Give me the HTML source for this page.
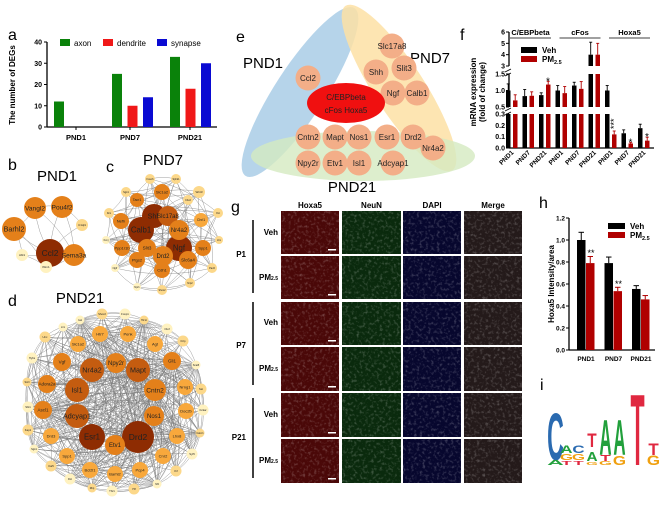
<!DOCTYPE html>
<html><head><meta charset="utf-8"><style>
html,body{margin:0;padding:0;background:#fff;}
svg{display:block;font-family:"Liberation Sans",sans-serif;}
</style></head><body>
<svg id="fig" width="669" height="506" viewBox="0 0 669 506" xmlns="http://www.w3.org/2000/svg">
<defs>
<filter id="noise" x="0" y="0" width="100%" height="100%">
<feTurbulence type="fractalNoise" baseFrequency="0.35" numOctaves="2" seed="3"/>
<feColorMatrix type="matrix" values="0 0 0 0 1  0 0 0 0 1  0 0 0 0 1  0 0 0 2.2 -1.1"/>
</filter>
</defs>
<g id="root"></g>
</svg>
<script>
// ---------- Panel a data ----------
const aCategories = ["PND1","PND7","PND21"];
const aAxon = [12, 25, 33];
const aDendrite = [0, 10, 18];
const aSynapse = [0, 14, 30];
const aTicks = [0,10,20,30,40];
// ---------- Panel f data ----------
const fGenes = ["C/EBPbeta","cFos","Hoxa5"];
const fDays = ["PND1","PND7","PND21"];
const fVeh = [1.0,0.83,0.86, 1.0,1.15,4.0, 1.0,0.13,0.175];
const fVehErr = [0.2,0.2,0.07, 0.15,0.1,1.1, 0.15,0.03,0.035];
const fPM = [0.7,0.84,1.18, 0.92,1.05,4.0, 0.12,0.04,0.065];
const fPMErr = [0.17,0.12,0.1, 0.2,0.22,1.0, 0.03,0.01,0.03];
const fStars = ["","","*","","","","***","*","*"];
const fTicksLow = [0.0,0.1,0.2,0.3];
const fTicksMid = [0.5,1.0,1.5];
const fTicksHigh = [3,4,5,6];
// ---------- Panel h data ----------
const hCategories = ["PND1","PND7","PND21"];
const hVeh = [1.0, 0.79, 0.555];
const hVehErr = [0.07, 0.055, 0.03];
const hPM = [0.79, 0.535, 0.46];
const hPMErr = [0.06, 0.035, 0.035];
const hStars = ["**","**",""];
const hTicks = [0.0,0.2,0.4,0.6,0.8,1.0,1.2];

const NS="http://www.w3.org/2000/svg";
const root=document.getElementById('root');
function el(tag,attrs,parent,text){const e=document.createElementNS(NS,tag);for(const k in attrs)e.setAttribute(k,attrs[k]);if(text!==undefined)e.textContent=text;(parent||root).appendChild(e);return e;}
function label(t,x,y,size,name){const e=el('text',{x:x,y:y,'font-size':size||15},root,t);

return e;}

label('a',8,40,16,'panel-label-a');label('b',8,170,16,'panel-label-b');label('c',106,172,16,'panel-label-c');
label('d',8,306,16,'panel-label-d');label('e',236,42,16,'panel-label-e');label('f',460,40,16,'panel-label-f');
label('g',231,212,16,'panel-label-g');label('h',539,208,16,'panel-label-h');label('i',540,390,16,'panel-label-i');

// ================= Panel a =================
(function(){
const g=el('g',{});


const x0=47,x1=217,yTop=42,yBot=127;
const y=v=>yBot-(v/40)*(yBot-yTop);
const catX=i=>[59,117,175][i];
const tickX=[76,130,190];
el('line',{x1:x0,y1:yTop,x2:x0,y2:yBot,stroke:'#000','stroke-width':1.3},g);
el('line',{x1:x0,y1:yBot,x2:x1,y2:yBot,stroke:'#000','stroke-width':1.3},g);
aTicks.forEach(t=>{el('line',{x1:x0-3,y1:y(t),x2:x0,y2:y(t),stroke:'#000'},g);
 const tx=el('text',{x:x0-5,y:y(t)+2.5,'font-size':7,'font-weight':'bold','text-anchor':'end'},g,t);
 
 });
const yt=el('text',{x:0,y:0,'font-size':8,'font-weight':'bold','text-anchor':'middle',transform:'translate(15,85) rotate(-90)'},g,'The number of DEGs');


const series=[[aAxon,'#0a820a',0],[aDendrite,'#f01818',1],[aSynapse,'#0a0ad2',2]];
aCategories.forEach((c,i)=>{
 const cx=catX(i);
 el('line',{x1:tickX[i],y1:yBot,x2:tickX[i],y2:yBot+3,stroke:'#000'},g);
 const t=el('text',{x:tickX[i],y:yBot+13,'font-size':7.5,'font-weight':'bold','text-anchor':'middle'},g,c);
 
 
 series.forEach(s=>{const v=s[0][i];const bx=cx+s[2]*15.5-5;
  const r=el('rect',{x:bx,y:y(v),width:10,height:yBot-y(v),fill:s[1]},g);
  
  });
});
[['axon','#0a820a',60],['dendrite','#f01818',103],['synapse','#0a0ad2',157]].forEach(l=>{
 const lg=el('g',{},g);
 
 
 el('rect',{x:l[2],y:39,width:10,height:7,fill:l[1]},lg);
 el('text',{x:l[2]+14,y:46,'font-size':8},lg,l[0]);});
})();

// ================= Networks =================
function network(name,nodes,edges,titleTxt,tx,ty){
 const g=el('g',{});
 
 
 const t=el('text',{x:tx,y:ty,'font-size':15,'text-anchor':'middle'},g,titleTxt);
 
 
 const eg=el('g',{stroke:'#777','stroke-width':0.45,fill:'none','stroke-opacity':0.8},g);
 edges.forEach(e=>{const a=nodes[e[0]],b=nodes[e[1]];
  const mx=(a[1]+b[1])/2+(b[2]-a[2])*0.12,my=(a[2]+b[2])/2-(b[1]-a[1])*0.12;
  el('path',{d:`M${a[1]},${a[2]} Q${mx},${my} ${b[1]},${b[2]}`},eg);});
 const cols=['#fff2c0','#fcd88a','#f8a83c','#e4801a','#c45c10','#8e2c02'];
 nodes.forEach(n=>{const ng=el('g',{},g);
  
  
  el('circle',{cx:n[1],cy:n[2],r:n[3],fill:cols[n[4]]},ng);
  const fs=n[3]>=10?Math.min(8.5,n[3]*0.6):Math.max(2.5,n[3]*0.5);
  el('text',{x:n[1],y:n[2]+fs*0.35,'font-size':fs,'text-anchor':'middle',fill:'#222'},ng,n[0]);});
}
function allEdges(n,step){const e=[];for(let i=0;i<n;i++)for(let j=i+1;j<n;j++){if((i*7+j*3)%step===0||j===i+1)e.push([i,j]);}return e;}
// b
(function(){
const nodes=[['Ccl2',50,253,14,5],['Vangl2',35,208,11,3],['Pou4f2',62,207,11,3],['Barhl2',14,229,12,3],['Sema3a',74,255,11,3],['C1ql1',82,225,6,1],['Abl1',22,255,6,0],['Ifitm1',46,267,6,0]];
const edges=[[0,1],[0,2],[0,3],[0,4],[0,5],[0,6],[0,7],[1,2],[1,3],[2,4],[3,6],[4,7],[6,7],[2,5],[1,4],[3,7]];
network('network-pnd1',nodes,edges,'PND1',57,181);
})();
// c
(function(){
const nodes=[['Shh',154,216,12,5],['Calb1',141,230,13,5],['Ngf',179,248,13,5],['Slc17a8',168,216,10,4],['Nr4a2',179,230,10,3],['Drd2',163,256,10,3],['Slit3',147,248,9,3],['Slc6a4',188,260,9,3],['Slc1a2',162,192,8,3],['Tacr1',137,200,7,3],['Nefh',121,221,8,3],['Ppp1r1b',122,248,8,3],['Ptgs2',137,260,8,3],['Cdh1',162,270,8,3],['Spp1',203,248,8,3],['Chrl1',201,220,7,2],['Wnt3',199,192,6,1],['Cbx2',188,200,5,1],['Foxo6',150,179,5,1],['Sphk1',176,179,5,1],['Sgk1',126,192,5,1],['Dcx',109,213,5,1],['Oxt',218,213,5,1],['Kcnj',106,240,4,0],['Pax6',212,268,5,1],['Nrp2',190,283,5,1],['Shox2',162,290,5,1],['Npr1',137,287,4,0],['Ngfr',115,268,4,0],['Lhx',219,240,4,1]];
network('network-pnd7',nodes,allEdges(nodes.length,4),'PND7',163,165);
})();
// d
(function(){
const nodes=[['Drd2',138,437,16,5],['Esr1',92,437,13,5],['Nr4a2',92,370,12,4],['Mapt',138,370,12,4],['Isl1',77,390,12,4],['Adcyap1',77,416,12,4],['Cntn2',155,390,11,3],['Nos1',154,416,10,3],['Etv1',115,445,10,3],['Npy2r',116,363,10,3],
['Vgf',62,362,9,3],['Slc1a2',78,344,8,2],['Htr7',100,334,8,2],['Penk',128,334,8,2],['Agt',155,344,8,2],['Gli1',172,361,9,3],['Adora2a',47,384,9,3],['Nrng1',185,387,8,2],['Ascl1',43,410,9,3],['Doc2b',186,411,8,2],['Drd3',51,436,8,2],['Lhx8',177,436,8,2],['Spp1',67,456,8,2],['Cnr2',163,456,8,2],['Bcl2l1',90,470,8,2],['Barhl2',115,474,8,2],['Pcp4',140,470,8,2]];
const outer=[['Gal',80,320],['Shox2',102,314],['Foxp1',125,314],['Htr1c',144,320],['Otof',167,329],['Crtp',183,341],['Snai5',196,365],['Sst',201,389],['Cckar',203,410],['Calcr1',200,433],['Syt5',192,454],['Kif',176,471],['Nfil',157,484],['Hlf',134,489],['Tbr1',112,491],['Rbp',92,488],['Dct',70,479],['Cai5',51,466],['Sgk1',34,449],['Kap1',28,430],['Sbi1',28,407],['Sst3',27,382],['Hybs',32,358],['Unc',45,337],['Lrrc',63,327]];
outer.forEach((o,i)=>nodes.push([o[0],o[1],o[2],i%3===0?4.5:5.5,i%2]));
network('network-pnd21',nodes,allEdges(nodes.length,3),'PND21',80,303);
})();

// ================= Panel e =================
(function(){
const g=el('g',{});


el('ellipse',{cx:300,cy:92,rx:100,ry:25,fill:'#a9cde6',opacity:0.85,transform:'rotate(-57 300 92)'},g);
el('ellipse',{cx:399,cy:88,rx:98,ry:25,fill:'#fde0a4',opacity:0.85,transform:'rotate(57 399 88)'},g);
el('ellipse',{cx:363,cy:156,rx:112,ry:25,fill:'#d4eac0',opacity:0.8},g);
[['PND1',263,68],['PND7',430,63],['PND21',352,192]].forEach(t=>{const e=el('text',{x:t[1],y:t[2],'font-size':15,'text-anchor':'middle'},g,t[0]);
 
 });
const genes=[['Slc17a8',392,46],['Shh',376,72],['Slit3',404,68],['Ngf',393,93],['Calb1',417,93],['Ccl2',308,78],['Cntn2',308,137],['Mapt',335,137],['Nos1',359,137],['Esr1',387,137],['Drd2',413,137],['Nr4a2',433,148],['Npy2r',308,163],['Etv1',335,163],['Isl1',359,163],['Adcyap1',393,163]];
genes.forEach(s=>{const n=el('g',{},g);
 
 
 el('circle',{cx:s[1],cy:s[2],r:12.5,fill:'#f3ae88'},n);
 el('text',{x:s[1],y:s[2]+3,'font-size':8,'text-anchor':'middle',fill:'#222'},n,s[0]);});
const c=el('g',{},g);


el('ellipse',{cx:346,cy:103,rx:39,ry:20,fill:'#f01010'},c);
el('text',{x:346,y:100,'font-size':8,'text-anchor':'middle',fill:'#222'},c,'C/EBPbeta');
el('text',{x:346,y:113,'font-size':8,'text-anchor':'middle',fill:'#222'},c,'cFos Hoxa5');
})();

// ================= Panel f =================
(function(){
const g=el('g',{});


const ax=509,xEnd=654;
const segs=[{lo:0,hi:0.3,y0:148,y1:114},{lo:0.5,hi:1.5,y0:107,y1:74},{lo:3,hi:6,y0:66,y1:32}];
const map=(s,v)=>s.y0-(v-s.lo)/(s.hi-s.lo)*(s.y0-s.y1);
const yOf=v=>{for(let i=segs.length-1;i>=0;i--){if(v>=segs[i].lo)return map(segs[i],Math.min(v,segs[i].hi));}return 148;};
segs.forEach(s=>el('line',{x1:ax,y1:s.y0,x2:ax,y2:s.y1,stroke:'#000','stroke-width':1.3},g));
el('line',{x1:ax,y1:148,x2:xEnd,y2:148,stroke:'#000','stroke-width':1.3},g);
[[segs[0],fTicksLow,1],[segs[1],fTicksMid,1],[segs[2],fTicksHigh,0]].forEach(a=>a[1].forEach(t=>{
 el('line',{x1:ax-3,y1:map(a[0],t),x2:ax,y2:map(a[0],t),stroke:'#000'},g);
 const e=el('text',{x:ax-4,y:map(a[0],t)+2.5,'font-size':7,'font-weight':'bold','text-anchor':'end'},g,t.toFixed(a[2]));
 
 }));
el('path',{d:'M505,72 l6,-3 M505,76 l6,-3 M505,111 l6,-3 M505,115 l6,-3',stroke:'#000','stroke-width':0.8},g);
const yt=el('text',{'font-size':8,'font-weight':'bold','text-anchor':'middle',transform:'translate(476,92) rotate(-90)'},g);


el('tspan',{x:0,dy:0},yt,'mRNA expression');el('tspan',{x:0,dy:9},yt,'(fold of change)');
const gx=i=>508+16.5*i;
function bar(x,v,err,col,name){
 const bg=el('g',{},g);
 
 
 segs.forEach(s=>{if(v>s.lo){const top=map(s,Math.min(v,s.hi));el('rect',{x:x-2,y:top,width:4.5,height:s.y0-top,fill:col},bg);}});
 const yt2=yOf(v+err),yb=yOf(v);
 el('line',{x1:x+0.2,y1:yb,x2:x+0.2,y2:yt2,stroke:col,'stroke-width':0.9},bg);
 el('line',{x1:x-1.3,y1:yt2,x2:x+1.7,y2:yt2,stroke:col,'stroke-width':0.9},bg);
}
fVeh.forEach((v,i)=>{
 const x=gx(i);
 bar(x,v,fVehErr[i],'#000','bar-veh-'+i);
 bar(x+7,fPM[i],fPMErr[i],'#b00000','bar-pm25-'+i);
 if(fStars[i]){const top=yOf(fPM[i]+fPMErr[i]);
  if(fStars[i].length>2){const s=el('text',{'font-size':9,transform:`translate(${x+10},${top-2}) rotate(-90)`},g,fStars[i]);}
  else{const s=el('text',{x:x+7,y:top+3,'font-size':10,'text-anchor':'middle'},g,fStars[i]);}}
 const d=fDays[i%3];
 const t=el('text',{'font-size':6.5,'font-weight':'bold','text-anchor':'end',transform:`translate(${x+6},${153}) rotate(-45)`},g,d);
 
 
});
fGenes.forEach((gn,k)=>{const x1=gx(k*3)+2,x2=gx(k*3+2)+10;
 const hg=el('g',{},g);
 
 
 el('line',{x1:x1,y1:38,x2:x2,y2:38,stroke:'#000','stroke-width':0.8},hg);
 el('text',{x:(x1+x2)/2,y:35,'font-size':7.5,'font-weight':'bold','text-anchor':'middle'},hg,gn);});
const lg1=el('g',{},g);
el('rect',{x:521,y:47,width:16,height:6,fill:'#000'},lg1);el('text',{x:542,y:53,'font-size':8,'font-weight':'bold'},lg1,'Veh');
const lg2=el('g',{},g);
el('rect',{x:521,y:56,width:16,height:6,fill:'#b00000'},lg2);
const pt=el('text',{x:542,y:62,'font-size':8,'font-weight':'bold'},lg2,'PM');el('tspan',{'font-size':5.5,dy:2},pt,'2.5');
})();

// ================= Panel g =================
(function(){
const g=el('g',{});


const cols=[[281,339,'Hoxa5','#4a0808','#ff3030'],[342,401,'NeuN','#0a2a0d','#40d040'],[403,461,'DAPI','#07072e','#4040ff'],[464,522,'Merge','#241a1a','#d08050']];
const rows=[[211,254],[256,299],[302,345],[347,391],[393,437],[439,483]];
cols.forEach(c=>{const h=el('text',{x:(c[0]+c[1])/2,y:208,'font-size':8,'font-weight':'bold','text-anchor':'middle'},g,c[2]);
 
 });
rows.forEach((r,ri)=>cols.forEach((c,ci)=>{
 const t=el('g',{},g);
 
 
 el('rect',{x:c[0],y:r[0],width:c[1]-c[0],height:r[1]-r[0],fill:c[3]},t);
 el('rect',{x:c[0],y:r[0],width:c[1]-c[0],height:r[1]-r[0],fill:c[4],filter:'url(#noise)',opacity:0.28},t);
 if(ci===0)el('rect',{x:c[1]-11,y:r[1]-5,width:8,height:1.5,fill:'#fff'},t);
}));
[['Veh',235],['PM2.5',280],['Veh',325],['PM2.5',371],['Veh',417],['PM2.5',463]].forEach(l=>{
 const t=el('text',{x:278,y:l[1],'font-size':8,'font-weight':'bold','text-anchor':'end'},g,l[0]==='Veh'?'Veh':'PM');
 
 
 if(l[0]!=='Veh')el('tspan',{'font-size':5},t,'2.5');});
[['P1',257,220,293],['P7',348,302,385],['P21',440,398,478]].forEach(p=>{
 el('line',{x1:253,y1:p[2],x2:253,y2:p[3],stroke:'#000','stroke-width':1.5},g);
 const t=el('text',{x:246,y:p[1],'font-size':8,'font-weight':'bold','text-anchor':'end'},g,p[0]);
 
 });
})();

// ================= Panel h =================
(function(){
const g=el('g',{});


const ax=569,xEnd=655,y0=350,ytop=218;
const y=v=>y0-(v/1.2)*(y0-ytop);
el('line',{x1:ax,y1:ytop,x2:ax,y2:y0,stroke:'#000','stroke-width':1.3},g);
el('line',{x1:ax,y1:y0,x2:xEnd,y2:y0,stroke:'#000','stroke-width':1.3},g);
hTicks.forEach(t=>{el('line',{x1:ax-3,y1:y(t),x2:ax,y2:y(t),stroke:'#000'},g);
 const e=el('text',{x:ax-4,y:y(t)+2.5,'font-size':6.5,'font-weight':'bold','text-anchor':'end'},g,t.toFixed(1));
 
 });
const yt=el('text',{'font-size':8,'font-weight':'bold','text-anchor':'middle',transform:'translate(554,284) rotate(-90)'},g,'Hoxa5 Intensity/area');


const cx=i=>586+27.5*i;
hCategories.forEach((c,i)=>{
 [[hVeh,hVehErr,'#000',-9,'veh'],[hPM,hPMErr,'#b00000',0,'pm25']].forEach(s=>{
  const v=s[0][i],e=s[1][i],x=cx(i)+s[3];
  const b=el('g',{},g);
  
  
  el('rect',{x:x,y:y(v),width:8.5,height:y0-y(v),fill:s[2]},b);
  el('line',{x1:x+4.25,y1:y(v),x2:x+4.25,y2:y(v+e),stroke:s[2]},b);
  el('line',{x1:x+1.5,y1:y(v+e),x2:x+7,y2:y(v+e),stroke:s[2]},b);
 });
 if(hStars[i]){const s=el('text',{x:cx(i)+5,y:y(hPM[i]+hPMErr[i])-0.5,'font-size':9,'text-anchor':'middle'},g,hStars[i]);
  }
 const t=el('text',{x:cx(i),y:361,'font-size':6.5,'font-weight':'bold','text-anchor':'middle'},g,c);
 
 
});
const lg1=el('g',{},g);
el('rect',{x:608,y:223,width:17,height:6,fill:'#000'},lg1);el('text',{x:630,y:229,'font-size':8,'font-weight':'bold'},lg1,'Veh');
const lg2=el('g',{},g);
el('rect',{x:608,y:232,width:17,height:6,fill:'#b00000'},lg2);
const pt=el('text',{x:630,y:238,'font-size':8,'font-weight':'bold'},lg2,'PM');el('tspan',{'font-size':5.5,dy:2},pt,'2.5');
})();

// ================= Panel i (sequence logo) =================
(function(){
const g=el('g',{});


const col={A:'#22a03c',C:'#2a6ab0',G:'#f0a010',T:'#e02840'};
// [letter, x, baseline, width, height]
const L=[['C',548,460,15,48],['A',548,465,15,5],['A',561,453,11,8],['G',561,460,11,6],['T',561,465,11,4],['C',573,453,11,8],['G',573,460,11,6],['T',573,465,11,4],['T',587,447,10,14],['A',587,461,10,9],['G',587,465,10,3],['A',600,455,11,36],['T',600,461,11,6],['G',600,465,11,4],['A',614,455,11,36],['G',614,465,11,9],['T',630,465,15,73],['T',648,455,11,12],['G',648,465,11,10]];
L.forEach(l=>{const t=el('text',{'font-size':10,'font-weight':'bold','text-anchor':'middle',fill:col[l[0]],
 transform:`translate(${l[1]+l[3]/2},${l[2]}) scale(${l[3]/6.5},${l[4]/7.2})`},g,l[0]);
 
 });
})();
</script>
</body></html>
